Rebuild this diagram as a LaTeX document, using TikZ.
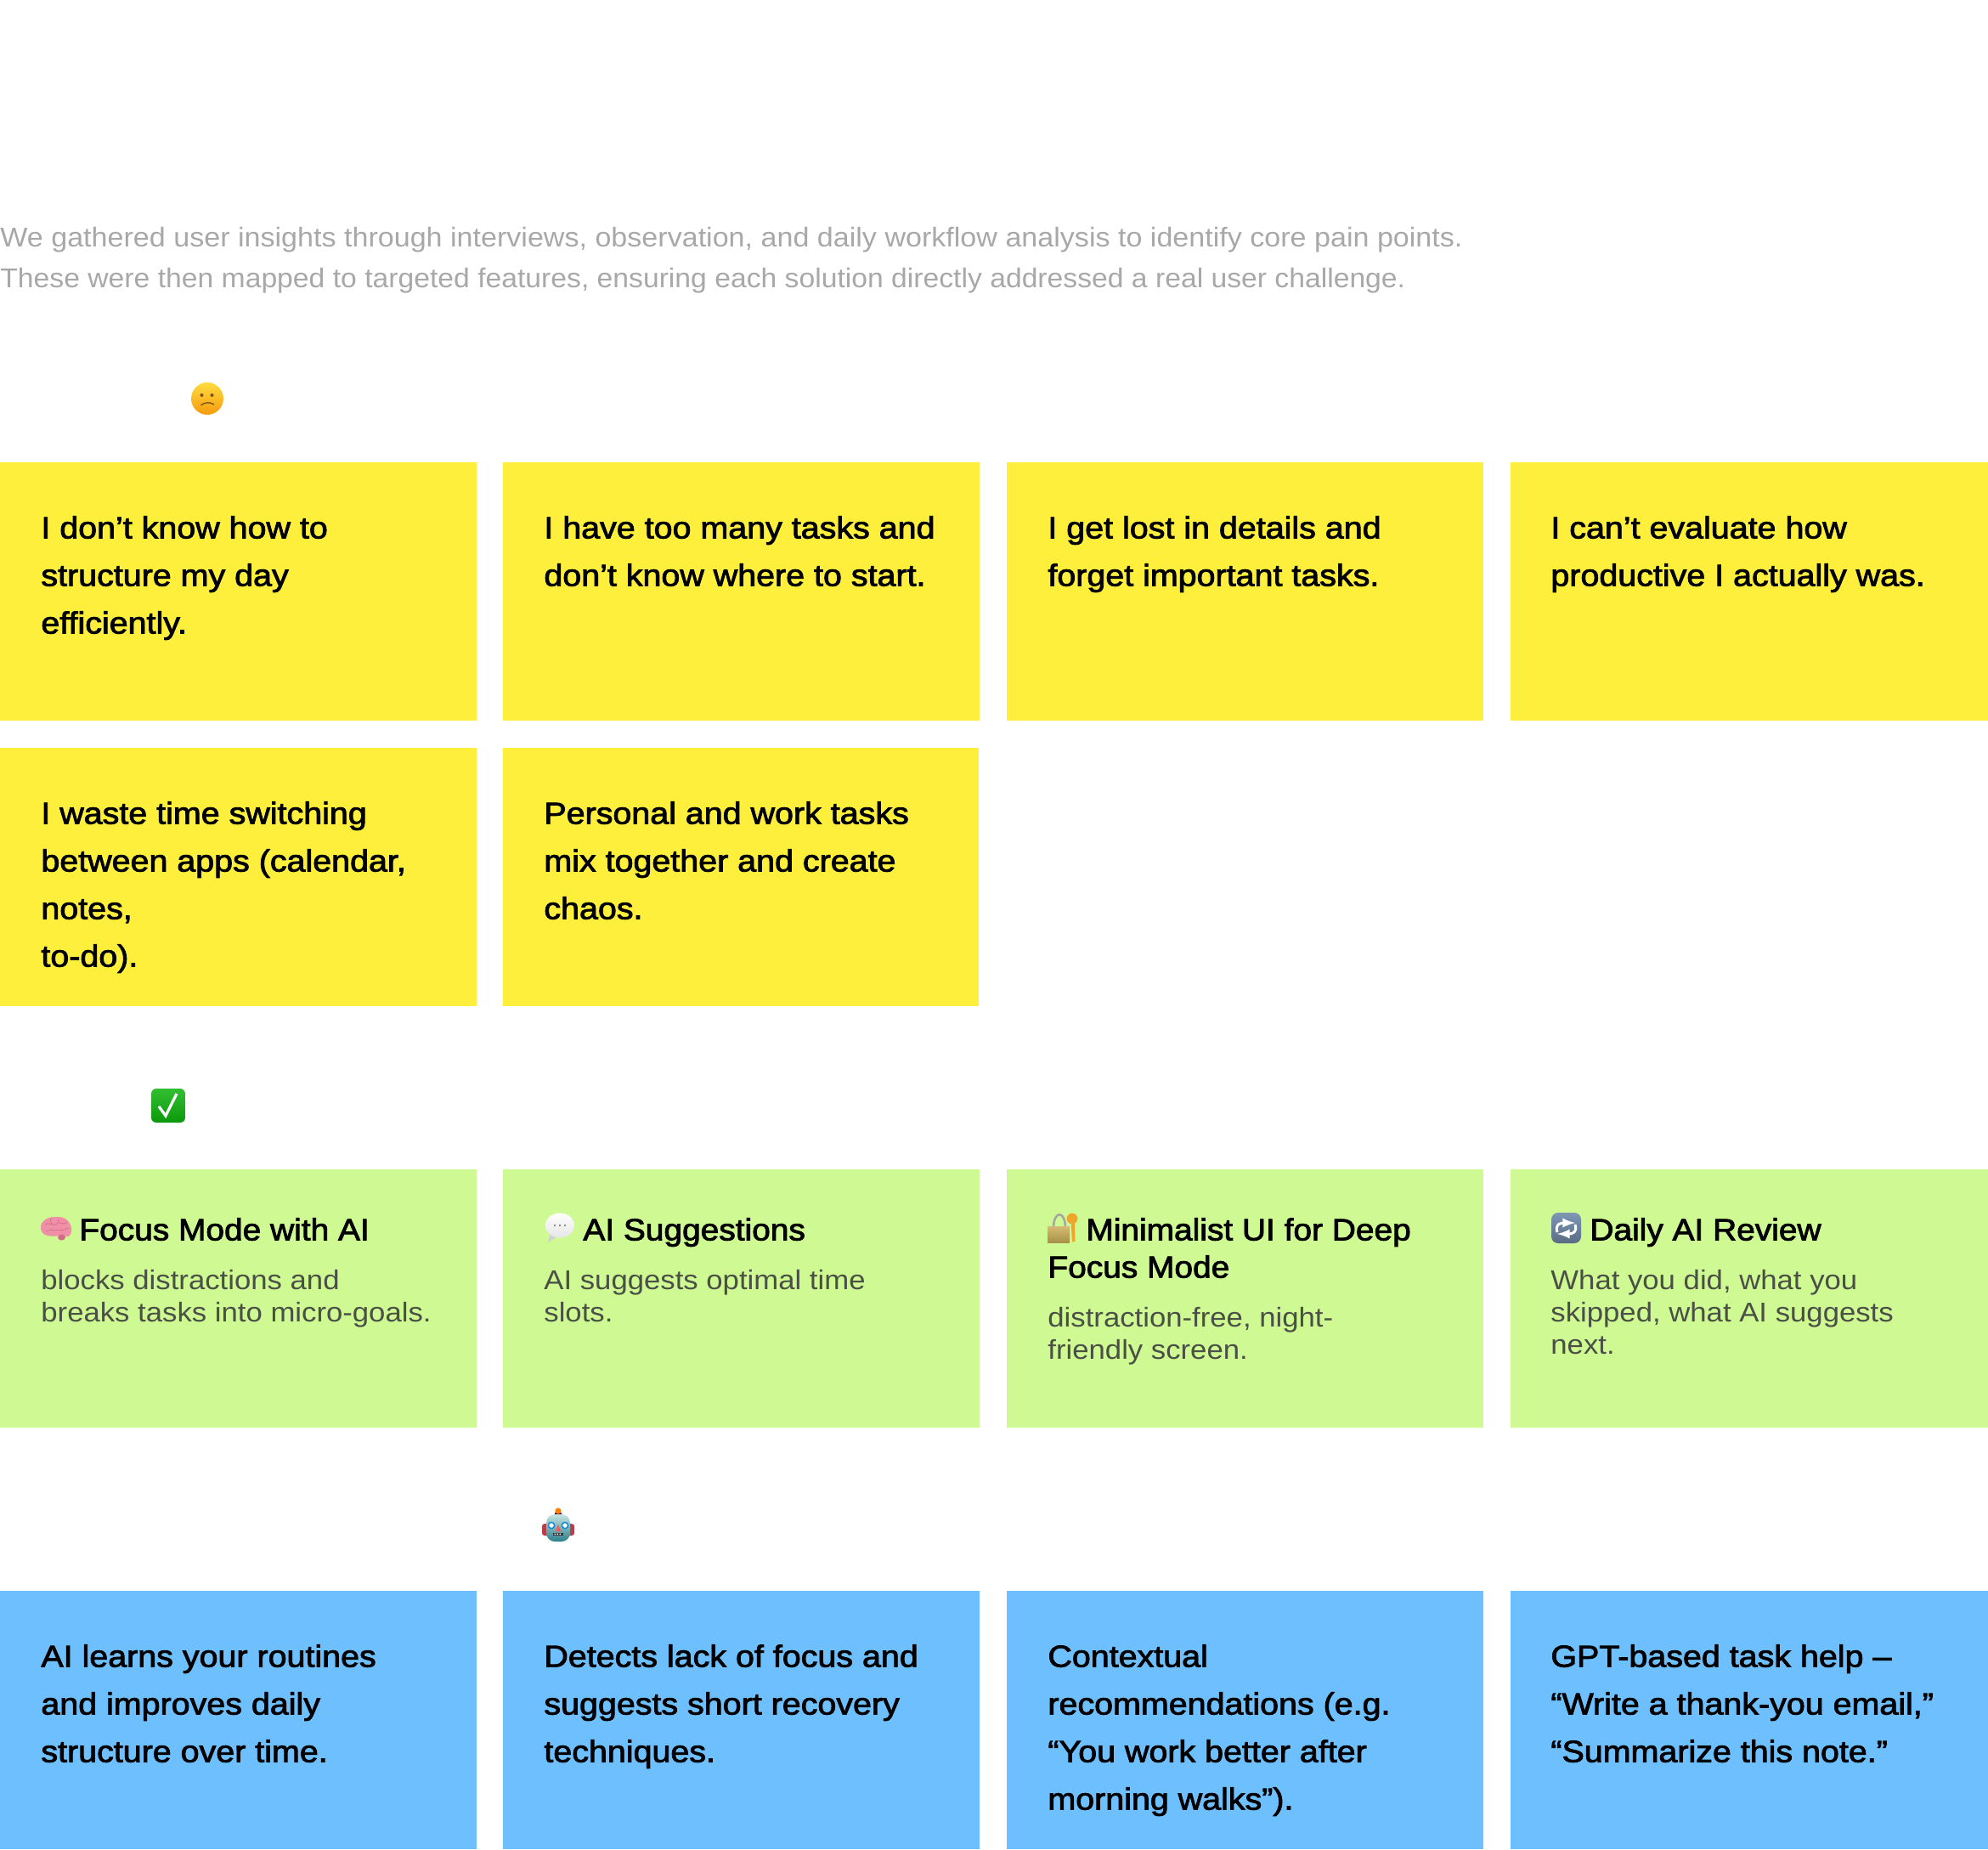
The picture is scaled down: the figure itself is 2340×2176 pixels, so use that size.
\documentclass[tikz,border=0pt]{standalone}
\usepackage{fontspec}
\setmainfont{Liberation Sans}
\newfontfamily\cardfont[FakeBold=2.4,FakeStretch=1.095]{Liberation Sans}
\newfontfamily\headfont[FakeBold=2.4,FakeStretch=1.08]{Liberation Sans}
\newfontfamily\descfont[FakeStretch=1.085]{Liberation Sans}
\newfontfamily\introfont[FakeStretch=1.065]{Liberation Sans}
\newfontfamily\introfontb[FakeStretch=1.053]{Liberation Sans}
\definecolor{cardyellow}{HTML}{FFEF3D}
\definecolor{cardgreen}{HTML}{CFF992}
\definecolor{cardblue}{HTML}{6DC0FD}
\definecolor{introgrey}{HTML}{A8A8A8}
\definecolor{descgrey}{HTML}{4A5046}
\definecolor{facetop}{HTML}{FFDC40}
\definecolor{facebot}{HTML}{F59B0C}
\definecolor{faceink}{HTML}{7A5210}
\definecolor{brainpink}{HTML}{EF8FA8}
\definecolor{braindark}{HTML}{D66A8C}
\definecolor{locktop}{HTML}{D6BC72}
\definecolor{lockbot}{HTML}{A89048}
\definecolor{keygold}{HTML}{EFA52A}
\definecolor{repeattop}{HTML}{7D97B5}
\definecolor{repeatbot}{HTML}{5A6C85}
\definecolor{robottop}{HTML}{C5E4E2}
\definecolor{robotbot}{HTML}{2C7F8C}
\definecolor{robotear}{HTML}{B5404A}
\definecolor{checkgreen}{HTML}{0DB30D}
\tikzset{
  x=0.5pt,y=-0.5pt,
  cardbox/.style={anchor=north west,minimum width=280.5pt,minimum height=152pt,inner sep=0pt,outer sep=0pt},
  cardtext/.style={anchor=north west,inner sep=0pt,align=left,font=\cardfont\fontsize{18}{28}\selectfont,text=black},
  headtext/.style={anchor=north west,inner sep=0pt,align=left,font=\headfont\fontsize{18}{22}\selectfont,text=black},
  desctext/.style={anchor=north west,inner sep=0pt,align=left,font=\descfont\fontsize{16}{19}\selectfont,text=descgrey},
  introtext/.style={anchor=north west,inner sep=0pt,align=left,font=\introfont\fontsize{16}{24}\selectfont,text=introgrey}
}
\begin{document}
\begin{tikzpicture}
\useasboundingbox (0,0) rectangle (2340,2176);
\node[introtext] (intro) at (0,267) {We gathered user insights through interviews, observation, and daily workflow analysis to identify core pain points.\\\introfontb\fontsize{16}{24}\selectfont These were then mapped to targeted features, ensuring each solution directly addressed a real user challenge.};

% sad face
\shade[top color=facetop,bottom color=facebot] (244,469) circle (19);
\fill[faceink] (237.5,465) circle (2) (249.5,465) circle (2);
\draw[faceink,line width=0.7pt] (236.5,477) .. controls (240,473.5) and (247,472.5) .. (252,476);

% yellow
\node[cardbox,fill=cardyellow] (p1) at (0,544) {};
\node[cardbox,fill=cardyellow] (p2) at (592,544) {};
\node[cardbox,fill=cardyellow] (p3) at (1185,544) {};
\node[cardbox,fill=cardyellow,minimum width=281.1pt] (p4) at (1777.7,544) {};
\node[cardbox,fill=cardyellow] (p5) at (0,880) {};
\node[cardbox,fill=cardyellow,minimum width=280pt] (p6) at (592,880) {};
\node[cardtext] (tp1) at (48,607) {I don’t know how to\\structure my day\\efficiently.};
\node[cardtext] (tp2) at (640,607) {I have too many tasks and\\don’t know where to start.};
\node[cardtext] (tp3) at (1233,607) {I get lost in details and\\forget important tasks.};
\node[cardtext] (tp4) at (1825,607) {I can’t evaluate how\\productive I actually was.};
\node[cardtext] (tp5) at (48,943) {I waste time switching\\between apps (calendar,\\notes,\\to-do).};
\node[cardtext] (tp6) at (640,943) {Personal and work tasks\\mix together and create\\chaos.};

% check
\shade[top color=checkgreen!85!white,bottom color=checkgreen!85!black,rounded corners=3pt] (178,1281) rectangle (218,1321);
\draw[white,line width=1.6pt] (187,1302) -- (195,1313) -- (208,1287);

% green
\node[cardbox,fill=cardgreen] (g1) at (0,1376) {};
\node[cardbox,fill=cardgreen] (g2) at (592,1376) {};
\node[cardbox,fill=cardgreen] (g3) at (1185,1376) {};
\node[cardbox,fill=cardgreen,minimum width=281.1pt] (g4) at (1777.7,1376) {};
\node[headtext] (hg1) at (93,1433) {Focus Mode with AI};
\node[headtext] (hg2) at (686,1433) {AI Suggestions};
\node[headtext] (hg3) at (1233,1433) {\hspace{22.5pt}Minimalist UI for Deep\\Focus Mode};
\node[headtext] (hg4) at (1871,1433) {Daily AI Review};
\node[desctext] (dg1) at (48,1494) {blocks distractions and\\breaks tasks into micro-goals.};
\node[desctext] (dg2) at (640,1494) {AI suggests optimal time\\slots.};
\node[desctext] (dg3) at (1233,1538) {distraction-free, night-\\friendly screen.};
\node[desctext] (dg4) at (1825,1494) {What you did, what you\\skipped, what AI suggests\\next.};

% brain
\fill[brainpink] (48,1446) .. controls (47,1436) and (58,1431) .. (67,1432) .. controls (78,1431) and (85,1440) .. (84,1449) .. controls (83,1456) and (78,1456) .. (76,1454) .. controls (66,1454) and (50,1458) .. (48,1446);
\fill[braindark] (72.5,1456) ellipse (4.5 and 3.5);
\draw[braindark,line width=0.35pt] (53,1441) .. controls (59,1437) and (62,1445) .. (68,1439) (54,1449) .. controls (61,1445) and (70,1451) .. (80,1445) (68,1435) .. controls (68,1441) and (76,1441) .. (79,1438) (60,1434) .. controls (58,1438) and (62,1440) .. (62,1441);

% speech bubble
\fill[black!18] (645,1462) -- (648,1449) -- (656,1455) -- cycle;
\shade[top color=white,bottom color=black!10] (659,1442) ellipse (17 and 14.5);
\fill[black!60] (653,1442) circle (1.1) (659,1442) circle (1.1) (665,1442) circle (1.1);

% lock with key
\draw[black!35,line width=1.3pt] (1240,1445) .. controls (1240,1424) and (1254,1424) .. (1254,1445);
\shade[top color=locktop,bottom color=lockbot] (1233,1443) rectangle (1259,1462);
\fill[keygold] (1262,1434) circle (6.3);
\fill[keygold] (1260.5,1436) -- (1265,1436) -- (1265.5,1461) -- (1262,1461) -- cycle;

% repeat icon
\shade[top color=repeattop,bottom color=repeatbot,rounded corners=4pt] (1826,1427) rectangle (1861,1463);
\draw[white,line width=1.5pt,-latex] (1833,1450) .. controls (1830,1441) and (1836,1439) .. (1854,1439);
\draw[white,line width=1.5pt,-latex] (1854,1441) .. controls (1857,1450) and (1851,1452) .. (1833,1452);

% robot
\fill[robotear,rounded corners=1.5pt] (638,1793) rectangle (676,1807);
\fill[violet!70!black] (653,1780) rectangle (661,1784);
\fill[orange] (657,1778) circle (3.6);
\shade[top color=robottop,bottom color=robotbot,rounded corners=5pt] (643,1782) rectangle (671,1814);
\fill[white] (649,1795) circle (3.6) (665,1795) circle (3.6);
\draw[cyan!70!blue,line width=0.7pt] (649,1795) circle (3.6) (665,1795) circle (3.6);
\fill[red!55!pink] (657,1794) -- (660,1802) -- (654,1802) -- cycle;
\fill[black!80] (651,1803.5) rectangle (663,1807);
\fill[white] (652.5,1804.5) rectangle (654,1806) (655.5,1804.5) rectangle (657,1806) (658.5,1804.5) rectangle (660,1806);

% blue
\node[cardbox,fill=cardblue] (b1) at (0,1872) {};
\node[cardbox,fill=cardblue] (b2) at (592,1872) {};
\node[cardbox,fill=cardblue] (b3) at (1185,1872) {};
\node[cardbox,fill=cardblue,minimum width=281.1pt] (b4) at (1777.7,1872) {};
\node[cardtext] (tb1) at (48,1935) {AI learns your routines\\and improves daily\\structure over time.};
\node[cardtext] (tb2) at (640,1935) {Detects lack of focus and\\suggests short recovery\\techniques.};
\node[cardtext] (tb3) at (1233,1935) {Contextual\\recommendations (e.g.\\“You work better after\\morning walks”).};
\node[cardtext] (tb4) at (1825,1935) {GPT-based task help –\\“Write a thank-you email,”\\“Summarize this note.”};
\end{tikzpicture}
\end{document}
